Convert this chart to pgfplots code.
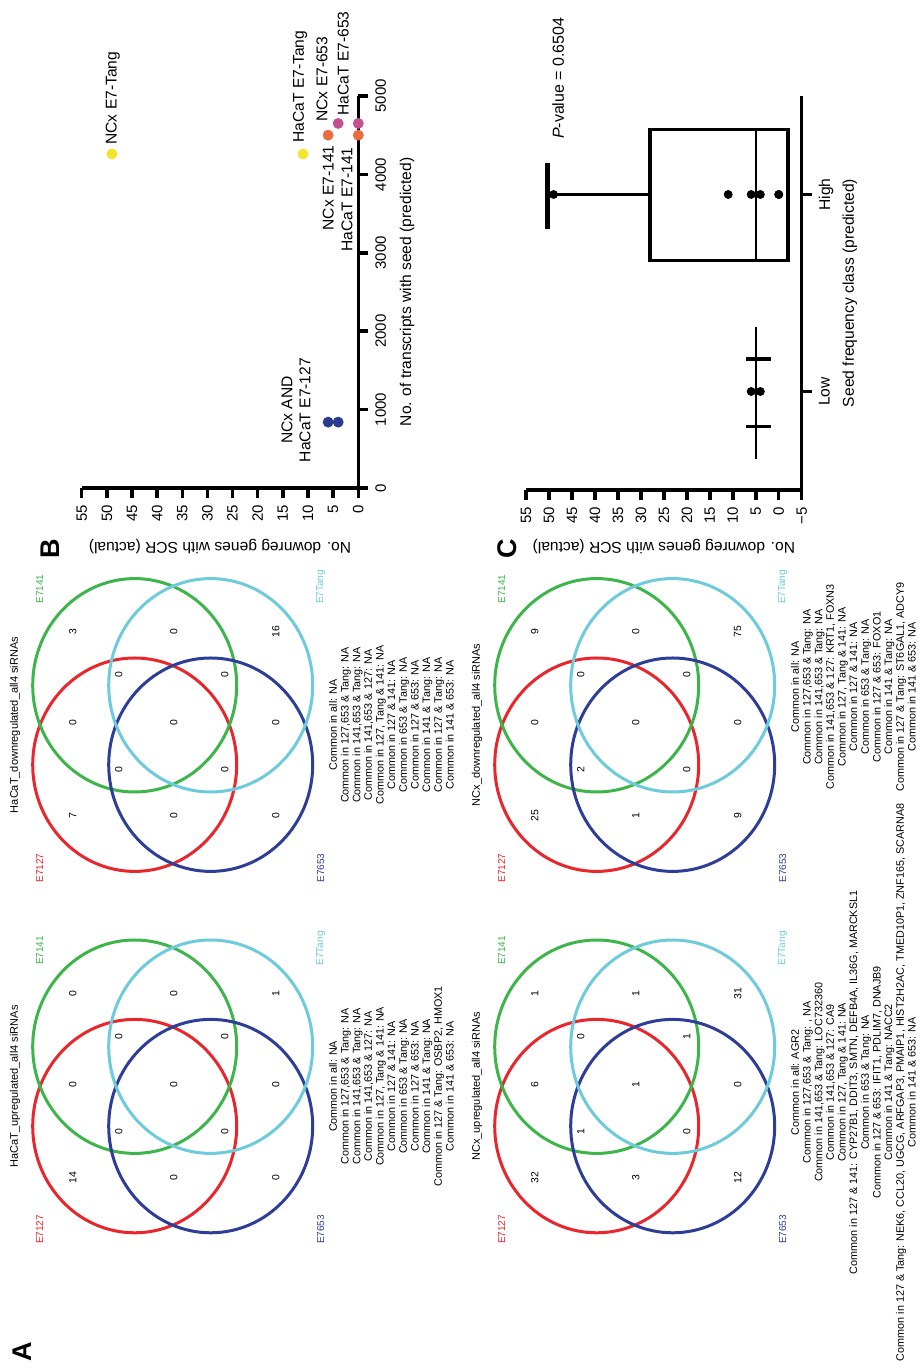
\documentclass[border=0pt]{standalone}
\usepackage{fontspec}
\setmainfont{Liberation Sans}
\usepackage{graphicx}
\usepackage{pgfplots}
\usepackage{pgfplotstable}
\pgfplotsset{compat=1.18}

\definecolor{vred}{HTML}{E8262C}
\definecolor{vgreen}{HTML}{3DB54A}
\definecolor{vblue}{HTML}{2E3E98}
\definecolor{vcyan}{HTML}{6DCBDB}
\definecolor{pyellow}{HTML}{F4E52B}
\definecolor{porange}{HTML}{EE6B3F}
\definecolor{pmagenta}{HTML}{C4508F}
\definecolor{pblue}{HTML}{2B3A8F}

% venn counts, x/y in half-points from the diagram centre
\pgfplotstableread{
x y v
-91 100 14
2 100 0
93 100 0
-45 54 0
50 54 0
-91 -1 0
2 -1 0
93 -1 0
-45 -52 0
50 -52 0
-91 -103 0
2 -103 0
93 -103 1
}\hup
\pgfplotstableread{
x y v
-91 100 7
2 100 0
93 100 3
-45 54 0
50 54 0
-91 -1 0
2 -1 0
93 -1 0
-45 -52 0
50 -52 0
-91 -103 0
2 -103 0
93 -103 16
}\hdown
\pgfplotstableread{
x y v
-91 100 32
2 100 6
93 100 1
-45 54 1
50 54 0
-91 -1 3
2 -1 1
93 -1 1
-45 -52 0
50 -52 1
-91 -103 12
2 -103 0
93 -103 31
}\nup
\pgfplotstableread{
x y v
-91 100 25
2 100 0
93 100 9
-45 54 2
50 54 0
-91 -1 1
2 -1 0
93 -1 0
-45 -52 0
50 -52 0
-91 -103 9
2 -103 0
93 -103 75
}\ndown

\newcommand\vennnum{\fontsize{5.2}{6}\selectfont}
\newcommand\vennlab{\fontsize{5}{6}\selectfont}
\newcommand\venntitle{\fontsize{5.5}{6}\selectfont}
\newcommand\venntxt{\fontsize{5.4}{5.83}\selectfont}
\newcommand\plotfont{\fontsize{7.8}{9}\selectfont}

% #1,#2 centre; #3 title; #4 table; #5 list; #6 list shift
\newcommand\venn[6]{%
\begin{axis}[at={(#1,#2)}, anchor=center, scale only axis, width=170pt, height=180pt,
  xmin=-170, xmax=170, ymin=-180, ymax=180, hide axis, clip=false]
  \draw[vred, line width=1.5pt] (axis cs:-39.7,38) ellipse [x radius=53.35pt, y radius=51pt];
  \draw[vgreen, line width=1.5pt] (axis cs:39.7,38) ellipse [x radius=53.35pt, y radius=51pt];
  \draw[vblue, line width=1.5pt] (axis cs:-39.7,-38) ellipse [x radius=53.35pt, y radius=51pt];
  \draw[vcyan, line width=1.5pt] (axis cs:39.7,-38) ellipse [x radius=53.35pt, y radius=51pt];
  \addplot[draw=none, nodes near coords, point meta=explicit symbolic,
    every node near coord/.style={font=\vennnum, anchor=center, inner sep=0pt}]
    table[x=x, y=y, meta=v] {#4};
  \node[font=\venntitle] at (axis cs:0,157.7) {#3};
  \node[font=\vennlab, text=vred] at (axis cs:-143,133) {E7127};
  \node[font=\vennlab, text=vgreen] at (axis cs:136,133) {E7141};
  \node[font=\vennlab, text=vblue] at (axis cs:-143,-148) {E7653};
  \node[font=\vennlab, text=vcyan] at (axis cs:138,-148) {E7Tang};
  \node[font=\venntxt, align=center, anchor=north, inner sep=0pt] at (axis cs:#6,-156) {#5};
\end{axis}}

\begin{document}
\rotatebox{90}{%
\begin{tikzpicture}
\useasboundingbox (0pt,0pt) rectangle (685pt,-461.5pt);

\node[font=\bfseries\fontsize{13.5}{14}\selectfont] at (9pt,-11pt) {A};
\node[font=\bfseries\fontsize{13.5}{14}\selectfont] at (410.85pt,-25pt) {B};
\node[font=\bfseries\fontsize{13.5}{14}\selectfont] at (410.85pt,-253.35pt) {C};

\venn{141.8pt}{-86.35pt}{HaCaT\_upregulated\_all4 siRNAs}{\hup}{%
Common in all: NA\\
Common in 127,653 \& Tang: NA\\
Common in 141,653 \& Tang: NA\\
Common in 141,653 \& 127: NA\\
Common in 127, Tang \& 141: NA\\
Common in 127 \& 141: NA\\
Common in 653 \& Tang: NA\\
Common in 127 \& 653: NA\\
Common in 141 \& Tang: NA\\
Common in 127 \& Tang: OSBP2, HMOX1\\
Common in 141 \& 653: NA}{0}

\venn{322.5pt}{-86.35pt}{HaCaT\_downregulated\_all4 siRNAs}{\hdown}{%
Common in all: NA\\
Common in 127,653 \& Tang: NA\\
Common in 141,653 \& Tang: NA\\
Common in 141,653 \& 127: NA\\
Common in 127, Tang \& 141: NA\\
Common in 127 \& 141: NA\\
Common in 653 \& Tang: NA\\
Common in 127 \& 653: NA\\
Common in 141 \& Tang: NA\\
Common in 127 \& Tang: NA\\
Common in 141 \& 653: NA}{0}

\venn{141.8pt}{-317.35pt}{NCx\_upregulated\_all4 siRNAs}{\nup}{%
Common in all: AGR2\\
Common in 127,653 \& Tang: , NA\\
Common in 141,653 \& Tang: LOC732360\\
Common in 141,653 \& 127: CA9\\
Common in 127, Tang \& 141: NA\\
Common in 127 \& 141: CYP27B1, DDIT3, SMTN, DEFB4A, IL36G, MARCKSL1\\
Common in 653 \& Tang: NA\\
Common in 127 \& 653: IFIT1, PDLIM7, DNAJB9\\
Common in 141 \& Tang: NACC2\\
Common in 127 \& Tang: NEK6, CCL20, UGCG, ARFGAP3, PMAIP1, HIST2H2AC, TMED10P1, ZNF165, SCARNA8\\
Common in 141 \& 653: NA}{4}

\venn{322.5pt}{-317.35pt}{NCx\_downregulated\_all4 siRNAs}{\ndown}{%
Common in all: NA\\
Common in 127,653 \& Tang: NA\\
Common in 141,653 \& Tang: NA\\
Common in 141,653 \& 127: KRT1, FOXN3\\
Common in 127, Tang \& 141: NA\\
Common in 127 \& 141: NA\\
Common in 653 \& Tang: NA\\
Common in 127 \& 653: FOXO1\\
Common in 141 \& Tang: NA\\
Common in 127 \& Tang: ST6GAL1, ADCY9\\
Common in 141 \& 653: NA}{38}

% panel B
\begin{axis}[at={(441pt,-179.15pt)}, anchor=south west, scale only axis,
  width=196pt, height=138.3pt,
  xmin=0, xmax=5000, ymin=0, ymax=55,
  axis lines=left, axis line style={-, line width=1.75pt},
  xtick={0,1000,...,5000}, ytick={0,5,...,55},
  tick align=outside, major tick length=5pt, tick style={line width=1.75pt, black},
  scaled x ticks=false, /pgf/number format/1000 sep={},
  /pgf/number format/assume math mode=true,
  ticklabel style={font=\fontsize{7.5}{8}\selectfont},
  label style={font=\plotfont},
  xlabel={No. of transcripts with seed (predicted)},
  ylabel={No. downreg genes with SCR (actual)},
  xlabel style={at={(axis description cs:0.5,-0.176)}, anchor=center},
  ylabel style={at={(axis description cs:-0.1505,0.5)}, anchor=center},
  clip=false]
\addplot[only marks, mark=*, mark size=2.5pt, color=pblue] coordinates {(840,6) (840,4)};
\addplot[only marks, mark=*, mark size=2.5pt, color=pyellow] coordinates {(4260,49) (4260,11)};
\addplot[only marks, mark=*, mark size=2.5pt, color=porange] coordinates {(4500,6) (4500,0)};
\addplot[only marks, mark=*, mark size=2.5pt, color=pmagenta] coordinates {(4650,4) (4650,0)};
\node[font=\plotfont, align=center, inner sep=0pt] at (axis cs:995,12.4) {NCx AND\\HaCaT E7-127};
\node[font=\plotfont, anchor=west, inner sep=0pt] at (axis cs:4375,48.8) {NCx E7-Tang};
\node[font=\plotfont, anchor=west, inner sep=0pt] at (axis cs:4401,11.6) {HaCaT E7-Tang};
\node[font=\plotfont, anchor=east, inner sep=0pt] at (axis cs:4375,6.0) {NCx E7-141};
\node[font=\plotfont, anchor=west, inner sep=0pt] at (axis cs:4668,7.2) {NCx E7-653};
\node[font=\plotfont, anchor=east, inner sep=0pt] at (axis cs:4350,2.25) {HaCaT E7-141};
\node[font=\plotfont, anchor=west, inner sep=0pt] at (axis cs:4745,3.0) {HaCaT E7-653};
\end{axis}

% panel C
\begin{axis}[at={(440pt,-400.85pt)}, anchor=south west, scale only axis,
  width=197pt, height=137.85pt,
  xmin=0.5, xmax=2.5, ymin=-5, ymax=55,
  axis lines=left, axis line style={-, line width=1.75pt},
  xtick={1,2}, xticklabels={Low,High},
  ytick={-5,0,...,55}, yticklabels={−5,0,5,10,15,20,25,30,35,40,45,50,55},
  tick align=outside, major tick length=5pt, tick style={line width=1.75pt, black},
  ticklabel style={font=\fontsize{7.5}{8}\selectfont},
  xticklabel style={font=\plotfont},
  label style={font=\plotfont},
  xlabel={Seed frequency class (predicted)},
  ylabel={No. downreg genes with SCR (actual)},
  xlabel style={at={(axis description cs:0.5,-0.175)}, anchor=center},
  ylabel style={at={(axis description cs:-0.1447,0.5)}, anchor=center},
  clip=false]
% High
\addplot[black, line width=1.75pt] coordinates {(2,28) (2.33,28) (2.33,-2) (1.665,-2) (1.665,28) (2,28)};
\addplot[black, line width=0.9pt] coordinates {(1.665,5) (2.33,5)};
\addplot[black, line width=1.75pt] coordinates {(2,28) (2,50.3)};
\addplot[black, line width=2.2pt] coordinates {(1.825,50.3) (2.16,50.3)};
\addplot[only marks, mark=*, mark size=2pt, black] coordinates {(2,49) (2,11) (2,6) (2,4) (2,0) (2,0)};
% Low
\addplot[black, line width=0.9pt] coordinates {(0.657,5) (1.327,5)};
\addplot[black, line width=1.75pt] coordinates {(0.822,1.7) (0.822,7.1)};
\addplot[black, line width=1.75pt] coordinates {(1.165,1.7) (1.165,7.1)};
\addplot[only marks, mark=*, mark size=2pt, black] coordinates {(1,6) (1,4)};
\node[font=\fontsize{8}{9}\selectfont] at (axis cs:2.59,48) {\textit{P}-value = 0.6504};
\end{axis}
\end{tikzpicture}}
\end{document}
